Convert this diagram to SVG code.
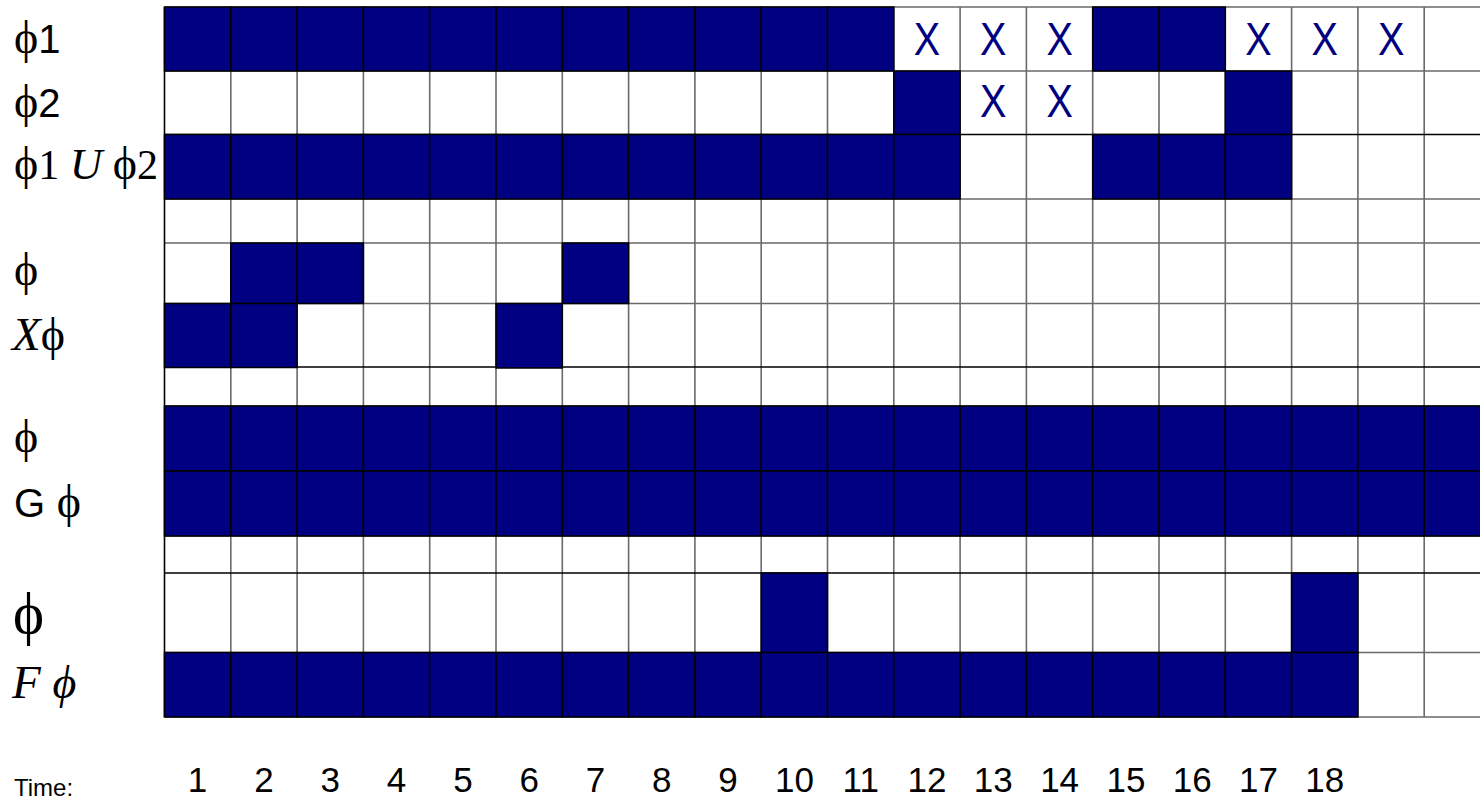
<svg xmlns="http://www.w3.org/2000/svg" width="1480" height="801" viewBox="0 0 1480 801">
<style>
.g{stroke:#6a6a6a;stroke-width:1.6}
.b{stroke:#000;stroke-width:1.6}
.f{fill:#000080;stroke:#000;stroke-width:1.5}
.x{font-family:"Liberation Sans",Arial,sans-serif;font-size:46px;fill:#000080;text-anchor:middle}
.n{font-family:"Liberation Sans",Arial,sans-serif;font-size:35px;fill:#000;text-anchor:middle}
.s{font-family:"Liberation Serif","Times New Roman",serif;font-size:42px;fill:#000}
.p{font-family:"Liberation Serif","DejaVu Serif",serif;font-size:46px;fill:#000}
.ss{font-family:"Liberation Sans",Arial,sans-serif;font-size:40px;fill:#000}
</style>
<rect width="1480" height="801" fill="#fff"/>
<g id="grid">
<path class="g" d="M230.8 7V717M297.1 7V717M363.4 7V717M429.7 7V717M496 7V717M562.3 7V717M628.6 7V717M694.9 7V717M761.2 7V717M827.5 7V717M893.8 7V717M960.1 7V717M1026.4 7V717M1092.7 7V717M1159 7V717M1225.3 7V717M1291.6 7V717M1357.9 7V717M1424.2 7V717"/>
<path class="g" d="M164.5 7H1480M164.5 71H1480M164.5 199H1480M164.5 243H1480M164.5 303.5H1480M164.5 406H1480M164.5 471H1480M164.5 536H1480M164.5 652.5H1480M164.5 717H1480"/>
<path class="b" d="M164.5 134.5H1480M164.5 367H1480M164.5 573H1480M164.5 7V717"/>
</g>
<g id="cells">
<rect class="f" x="164.5" y="7" width="66.3" height="64"/><rect class="f" x="230.8" y="7" width="66.3" height="64"/><rect class="f" x="297.1" y="7" width="66.3" height="64"/><rect class="f" x="363.4" y="7" width="66.3" height="64"/><rect class="f" x="429.7" y="7" width="66.3" height="64"/><rect class="f" x="496" y="7" width="66.3" height="64"/><rect class="f" x="562.3" y="7" width="66.3" height="64"/><rect class="f" x="628.6" y="7" width="66.3" height="64"/><rect class="f" x="694.9" y="7" width="66.3" height="64"/><rect class="f" x="761.2" y="7" width="66.3" height="64"/><rect class="f" x="827.5" y="7" width="66.3" height="64"/>
<rect class="f" x="1092.7" y="7" width="66.3" height="64"/><rect class="f" x="1159" y="7" width="66.3" height="64"/>
<rect class="f" x="893.8" y="71" width="66.3" height="63.5"/><rect class="f" x="1225.3" y="71" width="66.3" height="63.5"/>
<rect class="f" x="164.5" y="134.5" width="66.3" height="64.5"/><rect class="f" x="230.8" y="134.5" width="66.3" height="64.5"/><rect class="f" x="297.1" y="134.5" width="66.3" height="64.5"/><rect class="f" x="363.4" y="134.5" width="66.3" height="64.5"/><rect class="f" x="429.7" y="134.5" width="66.3" height="64.5"/><rect class="f" x="496" y="134.5" width="66.3" height="64.5"/><rect class="f" x="562.3" y="134.5" width="66.3" height="64.5"/><rect class="f" x="628.6" y="134.5" width="66.3" height="64.5"/><rect class="f" x="694.9" y="134.5" width="66.3" height="64.5"/><rect class="f" x="761.2" y="134.5" width="66.3" height="64.5"/><rect class="f" x="827.5" y="134.5" width="66.3" height="64.5"/><rect class="f" x="893.8" y="134.5" width="66.3" height="64.5"/>
<rect class="f" x="1092.7" y="134.5" width="66.3" height="64.5"/><rect class="f" x="1159" y="134.5" width="66.3" height="64.5"/><rect class="f" x="1225.3" y="134.5" width="66.3" height="64.5"/>
<rect class="f" x="230.8" y="243" width="66.3" height="60.5"/><rect class="f" x="297.1" y="243" width="66.3" height="60.5"/><rect class="f" x="562.3" y="243" width="66.3" height="60.5"/>
<rect class="f" x="164.5" y="303.5" width="66.3" height="64"/><rect class="f" x="230.8" y="303.5" width="66.3" height="64"/><rect class="f" x="496" y="303.5" width="66.3" height="64.5"/>
<rect class="f" x="164.5" y="406" width="66.3" height="65"/><rect class="f" x="230.8" y="406" width="66.3" height="65"/><rect class="f" x="297.1" y="406" width="66.3" height="65"/><rect class="f" x="363.4" y="406" width="66.3" height="65"/><rect class="f" x="429.7" y="406" width="66.3" height="65"/><rect class="f" x="496" y="406" width="66.3" height="65"/><rect class="f" x="562.3" y="406" width="66.3" height="65"/><rect class="f" x="628.6" y="406" width="66.3" height="65"/><rect class="f" x="694.9" y="406" width="66.3" height="65"/><rect class="f" x="761.2" y="406" width="66.3" height="65"/><rect class="f" x="827.5" y="406" width="66.3" height="65"/><rect class="f" x="893.8" y="406" width="66.3" height="65"/><rect class="f" x="960.1" y="406" width="66.3" height="65"/><rect class="f" x="1026.4" y="406" width="66.3" height="65"/><rect class="f" x="1092.7" y="406" width="66.3" height="65"/><rect class="f" x="1159" y="406" width="66.3" height="65"/><rect class="f" x="1225.3" y="406" width="66.3" height="65"/><rect class="f" x="1291.6" y="406" width="66.3" height="65"/><rect class="f" x="1357.9" y="406" width="66.3" height="65"/><rect class="f" x="1424.2" y="406" width="66.3" height="65"/>
<rect class="f" x="164.5" y="471" width="66.3" height="65"/><rect class="f" x="230.8" y="471" width="66.3" height="65"/><rect class="f" x="297.1" y="471" width="66.3" height="65"/><rect class="f" x="363.4" y="471" width="66.3" height="65"/><rect class="f" x="429.7" y="471" width="66.3" height="65"/><rect class="f" x="496" y="471" width="66.3" height="65"/><rect class="f" x="562.3" y="471" width="66.3" height="65"/><rect class="f" x="628.6" y="471" width="66.3" height="65"/><rect class="f" x="694.9" y="471" width="66.3" height="65"/><rect class="f" x="761.2" y="471" width="66.3" height="65"/><rect class="f" x="827.5" y="471" width="66.3" height="65"/><rect class="f" x="893.8" y="471" width="66.3" height="65"/><rect class="f" x="960.1" y="471" width="66.3" height="65"/><rect class="f" x="1026.4" y="471" width="66.3" height="65"/><rect class="f" x="1092.7" y="471" width="66.3" height="65"/><rect class="f" x="1159" y="471" width="66.3" height="65"/><rect class="f" x="1225.3" y="471" width="66.3" height="65"/><rect class="f" x="1291.6" y="471" width="66.3" height="65"/><rect class="f" x="1357.9" y="471" width="66.3" height="65"/><rect class="f" x="1424.2" y="471" width="66.3" height="65"/>
<rect class="f" x="761.2" y="573" width="66.3" height="79.5"/><rect class="f" x="1291.6" y="573" width="66.3" height="79.5"/>
<rect class="f" x="164.5" y="652.5" width="66.3" height="64.5"/><rect class="f" x="230.8" y="652.5" width="66.3" height="64.5"/><rect class="f" x="297.1" y="652.5" width="66.3" height="64.5"/><rect class="f" x="363.4" y="652.5" width="66.3" height="64.5"/><rect class="f" x="429.7" y="652.5" width="66.3" height="64.5"/><rect class="f" x="496" y="652.5" width="66.3" height="64.5"/><rect class="f" x="562.3" y="652.5" width="66.3" height="64.5"/><rect class="f" x="628.6" y="652.5" width="66.3" height="64.5"/><rect class="f" x="694.9" y="652.5" width="66.3" height="64.5"/><rect class="f" x="761.2" y="652.5" width="66.3" height="64.5"/><rect class="f" x="827.5" y="652.5" width="66.3" height="64.5"/><rect class="f" x="893.8" y="652.5" width="66.3" height="64.5"/><rect class="f" x="960.1" y="652.5" width="66.3" height="64.5"/><rect class="f" x="1026.4" y="652.5" width="66.3" height="64.5"/><rect class="f" x="1092.7" y="652.5" width="66.3" height="64.5"/><rect class="f" x="1159" y="652.5" width="66.3" height="64.5"/><rect class="f" x="1225.3" y="652.5" width="66.3" height="64.5"/><rect class="f" x="1291.6" y="652.5" width="66.3" height="64.5"/>
</g>
<g id="xmarks">
<text class="x" transform="translate(927,55) scale(0.86,1)">X</text>
<text class="x" transform="translate(993.3,55) scale(0.86,1)">X</text>
<text class="x" transform="translate(1059.6,55) scale(0.86,1)">X</text>
<text class="x" transform="translate(1258.5,55) scale(0.86,1)">X</text>
<text class="x" transform="translate(1324.8,55) scale(0.86,1)">X</text>
<text class="x" transform="translate(1391.1,55) scale(0.86,1)">X</text>
<text class="x" transform="translate(993.3,117) scale(0.86,1)">X</text>
<text class="x" transform="translate(1059.6,117) scale(0.86,1)">X</text>
</g>
<g id="labels">
<text x="14" y="53"><tspan class="p">ϕ</tspan><tspan class="ss">1</tspan></text>
<text x="14" y="117"><tspan class="p">ϕ</tspan><tspan class="ss">2</tspan></text>
<text class="s" x="14" y="179"><tspan class="p">ϕ</tspan>1 <tspan style="font-style:italic;font-size:45px">U</tspan> <tspan class="p">ϕ</tspan>2</text>
<text class="p" x="14" y="285">ϕ</text>
<text class="s" x="12" y="350"><tspan style="font-style:italic;font-size:47px">X</tspan><tspan class="p">ϕ</tspan></text>
<text class="p" x="14" y="452">ϕ</text>
<text x="14" y="517"><tspan class="ss">G</tspan><tspan class="p"> ϕ</tspan></text>
<text class="p" x="13" y="633" style="font-size:59px">ϕ</text>
<text class="s" x="12" y="698" style="font-style:italic;font-size:47px">F <tspan class="p" style="font-style:italic">ϕ</tspan></text>
<text x="14" y="796" style="font-family:'Liberation Sans',Arial,sans-serif;font-size:24px">Time:</text>
</g>
<g id="time">
<text class="n" x="197.6" y="792">1</text><text class="n" x="264" y="792">2</text><text class="n" x="330.3" y="792">3</text><text class="n" x="396.6" y="792">4</text><text class="n" x="462.9" y="792">5</text><text class="n" x="529.2" y="792">6</text><text class="n" x="595.5" y="792">7</text><text class="n" x="661.8" y="792">8</text><text class="n" x="728" y="792">9</text><text class="n" x="794.4" y="792">10</text><text class="n" x="860.7" y="792">11</text><text class="n" x="927" y="792">12</text><text class="n" x="993.3" y="792">13</text><text class="n" x="1059.6" y="792">14</text><text class="n" x="1125.9" y="792">15</text><text class="n" x="1192.2" y="792">16</text><text class="n" x="1258.5" y="792">17</text><text class="n" x="1324.8" y="792">18</text>
</g>
</svg>
